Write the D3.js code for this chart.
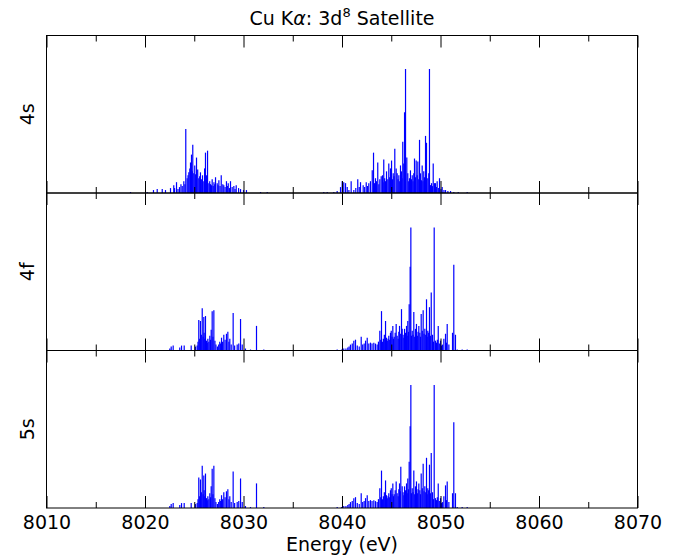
<!DOCTYPE html>
<html>
<head>
<meta charset="utf-8">
<script src="https://cdn.jsdelivr.net/npm/d3@7"></script>
<style>
  body { margin: 0; background: #fff; }
  text { font-family: "DejaVu Sans", sans-serif; }
</style>
</head>
<body>
<svg id="chart" width="684" height="556"></svg>
<script>
// stick spectra, [energy (eV), intensity]
var panelNames = ["4s", "4f", "5s"];
var majorTicks = [8010, 8020, 8030, 8040, 8050, 8060, 8070];
var minorTicks = [8015, 8025, 8035, 8045, 8055, 8065];

var lines4s = [
  [8018.53,1],[8020.22,1],[8020.86,3],[8021.24,4],[8021.75,4],[8022.08,3],[8022.59,5],[8022.92,8],
  [8023.00,5],[8023.20,11],[8023.35,4],[8023.50,6],[8023.65,9],[8023.78,7],[8023.94,12],[8024.05,9],
  [8024.14,65],[8024.28,15],[8024.37,18],[8024.45,21],[8024.55,25],[8024.62,31],[8024.72,39],[8024.80,22],
  [8024.85,49],[8024.95,20],[8025.05,28],[8025.14,19],[8025.23,36],[8025.35,24],[8025.46,15],[8025.55,17],
  [8025.63,21],[8025.75,14],[8025.84,18],[8025.97,12],[8026.05,25],[8026.14,41],[8026.25,18],[8026.35,43],
  [8026.48,10],[8026.57,12],[8026.65,9],[8026.74,8],[8026.82,14],[8026.92,7],[8027.00,11],[8027.08,9],
  [8027.16,16],[8027.33,10],[8027.42,8],[8027.50,13],[8027.62,7],[8027.74,18],[8027.90,9],[8028.00,8],
  [8028.13,6],[8028.27,12],[8028.36,7],[8028.45,10],[8028.57,5],[8028.68,12],[8028.85,6],[8029.02,7],
  [8029.14,4],[8029.26,8],[8029.50,5],[8029.70,4],[8030.00,3],[8030.30,3],[8031.73,1],[8032.41,1],
  [8038.15,1],[8038.50,1],[8039.17,1],[8039.51,2],[8039.85,6],[8040.02,12],[8040.18,11],[8040.36,10],
  [8040.53,6],[8040.70,3],[8040.93,12],[8041.20,3],[8041.40,5],[8041.60,14],[8041.75,6],[8041.88,11],
  [8042.15,8],[8042.30,6],[8042.46,11],[8042.60,7],[8042.72,10],[8042.89,12],[8043.07,23],[8043.20,41],
  [8043.30,10],[8043.40,15],[8043.50,12],[8043.63,31],[8043.74,9],[8043.84,14],[8043.98,17],[8044.11,18],
  [8044.17,11],[8044.24,34],[8044.33,15],[8044.42,12],[8044.52,22],[8044.65,14],[8044.75,30],[8044.84,16],
  [8044.92,25],[8045.03,33],[8045.12,14],[8045.20,20],[8045.28,17],[8045.36,45],[8045.50,25],[8045.60,20],
  [8045.69,14],[8045.77,18],[8045.86,12],[8045.94,28],[8046.04,22],[8046.10,15],[8046.17,52],[8046.27,30],
  [8046.35,82],[8046.45,126],[8046.58,36],[8046.68,20],[8046.77,12],[8046.85,15],[8046.95,23],[8047.05,14],
  [8047.13,18],[8047.21,12],[8047.29,20],[8047.36,35],[8047.45,16],[8047.53,33],[8047.63,18],[8047.70,32],
  [8047.79,14],[8047.87,54],[8047.97,20],[8048.06,13],[8048.14,28],[8048.22,12],[8048.30,22],[8048.38,16],
  [8048.48,58],[8048.58,51],[8048.71,15],[8048.81,20],[8048.88,126],[8048.98,8],[8049.09,10],[8049.18,7],
  [8049.26,30],[8049.39,10],[8049.49,10],[8049.58,6],[8049.66,12],[8049.78,5],[8049.90,15],[8050.05,4],
  [8050.17,6],[8050.35,3],[8050.51,3],[8050.75,2],[8051.02,2],[8051.35,1],[8051.80,1],[8052.71,1]
];

var lines4f = [
  [8022.52,2],[8022.66,4],[8022.86,5],[8023.53,3],[8023.71,5],[8023.98,5],[8024.69,5],[8025.13,4],
  [8025.30,5],[8025.38,9],[8025.46,31],[8025.55,12],[8025.63,30],[8025.72,16],[8025.81,43],[8025.90,14],
  [8025.97,34],[8026.00,18],[8026.07,12],[8026.14,35],[8026.25,10],[8026.32,8],[8026.38,12],[8026.48,9],
  [8026.58,15],[8026.66,11],[8026.72,21],[8026.82,40],[8026.90,14],[8026.99,41],[8027.10,10],[8027.20,6],
  [8027.35,4],[8027.48,6],[8027.59,9],[8027.68,7],[8027.77,13],[8027.88,9],[8028.00,16],[8028.13,11],
  [8028.27,17],[8028.41,19],[8028.52,9],[8028.61,12],[8028.75,6],[8028.95,38],[8029.10,5],[8029.36,6],
  [8029.52,7],[8029.70,32],[8029.87,6],[8030.20,2],[8030.71,1],[8031.32,25],[8032.06,1],
  [8039.51,1],[8039.95,1],[8040.18,2],[8040.40,2],[8040.59,3],[8040.72,4],[8040.86,6],[8041.04,7],
  [8041.20,10],[8041.37,11],[8041.55,5],[8041.75,4],[8041.95,14],[8042.10,6],[8042.25,7],[8042.39,10],
  [8042.56,13],[8042.72,7],[8042.89,8],[8043.05,7],[8043.23,8],[8043.40,7],[8043.57,6],[8043.70,9],
  [8043.84,20],[8043.93,11],[8044.01,40],[8044.10,9],[8044.20,12],[8044.30,16],[8044.42,30],[8044.52,13],
  [8044.60,10],[8044.68,12],[8044.75,15],[8044.84,11],[8044.92,18],[8045.00,20],[8045.08,14],[8045.16,25],
  [8045.23,12],[8045.30,14],[8045.40,18],[8045.50,27],[8045.60,15],[8045.70,12],[8045.77,19],[8045.84,25],
  [8045.92,17],[8046.04,42],[8046.11,22],[8046.20,16],[8046.28,13],[8046.35,22],[8046.45,18],[8046.55,25],
  [8046.62,15],[8046.68,30],[8046.75,19],[8046.82,47],[8046.92,85],[8046.99,125],[8047.05,15],[8047.13,20],
  [8047.21,16],[8047.29,39],[8047.38,14],[8047.46,22],[8047.56,27],[8047.65,15],[8047.72,19],[8047.80,25],
  [8047.90,18],[8047.97,14],[8048.04,37],[8048.15,20],[8048.24,41],[8048.33,17],[8048.41,22],[8048.50,16],
  [8048.58,52],[8048.65,14],[8048.71,20],[8048.80,18],[8048.88,44],[8048.97,15],[8049.06,59],[8049.19,16],
  [8049.28,9],[8049.36,125],[8049.49,10],[8049.60,8],[8049.68,11],[8049.77,25],[8049.88,7],[8050.00,10],
  [8050.10,5],[8050.20,6],[8050.34,12],[8050.51,17],[8050.60,8],[8050.68,27],[8050.85,6],[8051.22,18],
  [8051.35,87],[8051.52,16],[8051.70,1],[8052.20,1],[8052.71,1]
];

var lines5s = [
  [8022.52,2],[8022.66,4],[8022.86,5],[8023.53,3],[8023.71,5],[8023.98,5],[8024.69,5],[8025.13,4],
  [8025.30,5],[8025.38,9],[8025.46,31],[8025.55,12],[8025.63,29],[8025.72,16],[8025.81,43],[8025.90,14],
  [8025.97,33],[8026.00,18],[8026.07,12],[8026.14,35],[8026.25,10],[8026.32,8],[8026.38,12],[8026.48,9],
  [8026.58,15],[8026.66,11],[8026.72,22],[8026.82,40],[8026.90,14],[8026.99,43],[8027.10,10],[8027.20,6],
  [8027.35,4],[8027.48,6],[8027.59,9],[8027.68,7],[8027.77,13],[8027.88,9],[8028.00,16],[8028.13,11],
  [8028.27,17],[8028.41,19],[8028.52,9],[8028.61,12],[8028.75,6],[8028.95,37],[8029.10,5],[8029.36,6],
  [8029.52,7],[8029.70,30],[8029.87,6],[8030.20,2],[8030.71,1],[8031.32,25],[8032.06,1],
  [8039.51,1],[8039.95,1],[8040.18,2],[8040.40,2],[8040.59,3],[8040.72,4],[8040.86,6],[8041.04,7],
  [8041.20,10],[8041.37,11],[8041.55,5],[8041.75,4],[8041.95,15],[8042.10,6],[8042.25,7],[8042.39,10],
  [8042.56,13],[8042.72,7],[8042.89,8],[8043.05,7],[8043.23,8],[8043.40,7],[8043.57,6],[8043.70,9],
  [8043.84,20],[8043.93,11],[8044.01,38],[8044.10,9],[8044.20,12],[8044.30,16],[8044.42,28],[8044.52,13],
  [8044.60,10],[8044.68,12],[8044.75,15],[8044.84,11],[8044.92,18],[8045.00,20],[8045.08,14],[8045.16,25],
  [8045.23,12],[8045.30,14],[8045.40,18],[8045.50,27],[8045.60,15],[8045.70,12],[8045.77,19],[8045.84,25],
  [8045.92,17],[8045.97,42],[8046.11,22],[8046.20,16],[8046.28,13],[8046.35,22],[8046.45,18],[8046.55,25],
  [8046.62,15],[8046.68,30],[8046.75,19],[8046.82,47],[8046.92,83],[8046.99,125],[8047.05,15],[8047.13,20],
  [8047.21,16],[8047.29,38],[8047.38,14],[8047.46,22],[8047.56,27],[8047.65,15],[8047.72,19],[8047.80,25],
  [8047.90,18],[8047.97,14],[8048.04,35],[8048.15,20],[8048.24,45],[8048.33,17],[8048.41,22],[8048.50,16],
  [8048.58,51],[8048.65,14],[8048.71,20],[8048.80,18],[8048.88,44],[8048.97,15],[8049.06,56],[8049.19,16],
  [8049.28,9],[8049.36,125],[8049.49,10],[8049.60,8],[8049.68,11],[8049.77,25],[8049.88,7],[8050.00,10],
  [8050.10,5],[8050.20,6],[8050.34,12],[8050.51,23],[8050.60,8],[8050.68,27],[8050.85,6],[8051.22,15],
  [8051.35,87],[8051.52,15],[8051.70,1],[8052.20,1],[8052.71,1]
];

var panelData = [lines4s, lines4f, lines5s];

var svg = d3.select("#chart");
var left = 46.5, right = 637.5, top0 = 35.5, panelH = 157.5;

var x = d3.scaleLinear().domain([8010, 8070]).range([left, right]);

panelData.forEach(function(lines, i) {
  var y0 = top0 + i * panelH;
  var y = d3.scaleLinear().domain([0, 160]).range([y0 + panelH, y0]);

  var g = svg.append("g");

  g.selectAll("line.stick")
    .data(lines)
    .enter().append("line")
      .attr("class", "stick")
      .attr("x1", function(d){ return x(d[0]); })
      .attr("x2", function(d){ return x(d[0]); })
      .attr("y1", y(0))
      .attr("y2", function(d){ return y(d[1]); })
      .style("stroke", "#0000ff")
      .style("stroke-width", 1.2);

  // inward ticks top and bottom
  var bottomMajor = d3.axisBottom(x).tickValues(majorTicks).tickSize(-12).tickPadding(8)
      .tickFormat(i == 2 ? d3.format("d") : "");
  var bottomMinor = d3.axisBottom(x).tickValues(minorTicks).tickSize(-6).tickFormat("");
  var topMajor = d3.axisTop(x).tickValues(majorTicks).tickSize(-12).tickFormat("");
  var topMinor = d3.axisTop(x).tickValues(minorTicks).tickSize(-6).tickFormat("");

  [[bottomMajor, y0 + panelH], [bottomMinor, y0 + panelH], [topMajor, y0], [topMinor, y0]].forEach(function(a) {
    var ax = g.append("g")
        .attr("transform", "translate(0," + a[1] + ")")
        .call(a[0]);
    ax.select(".domain").remove();
    ax.selectAll("line").style("stroke", "#000").style("stroke-width", 1);
    ax.selectAll("text").style("font-size", "19px").style("fill", "#000")
      .style("font-family", "DejaVu Sans, sans-serif");
  });

  g.append("rect")
      .attr("x", left)
      .attr("y", y0)
      .attr("width", right - left)
      .attr("height", panelH)
      .style("fill", "none")
      .style("stroke", "#000")
      .style("stroke-width", 1);

  g.append("text")
      .attr("transform", "translate(34," + (y0 + panelH / 2) + ") rotate(-90)")
      .attr("text-anchor", "middle")
      .style("font-size", "19px")
      .text(panelNames[i]);
});

var title = svg.append("text")
    .attr("x", (left + right) / 2)
    .attr("y", 25)
    .attr("text-anchor", "middle")
    .style("font-size", "19px");
title.append("tspan").text("Cu K");
title.append("tspan").style("font-style", "italic").text("α");
title.append("tspan").text(": 3d");
title.append("tspan").attr("dy", -8).style("font-size", "13px").text("8");
title.append("tspan").attr("dy", 8).text(" Satellite");

svg.append("text")
    .attr("x", (left + right) / 2)
    .attr("y", 551)
    .attr("text-anchor", "middle")
    .style("font-size", "19px")
    .text("Energy (eV)");
</script>
</body>
</html>
